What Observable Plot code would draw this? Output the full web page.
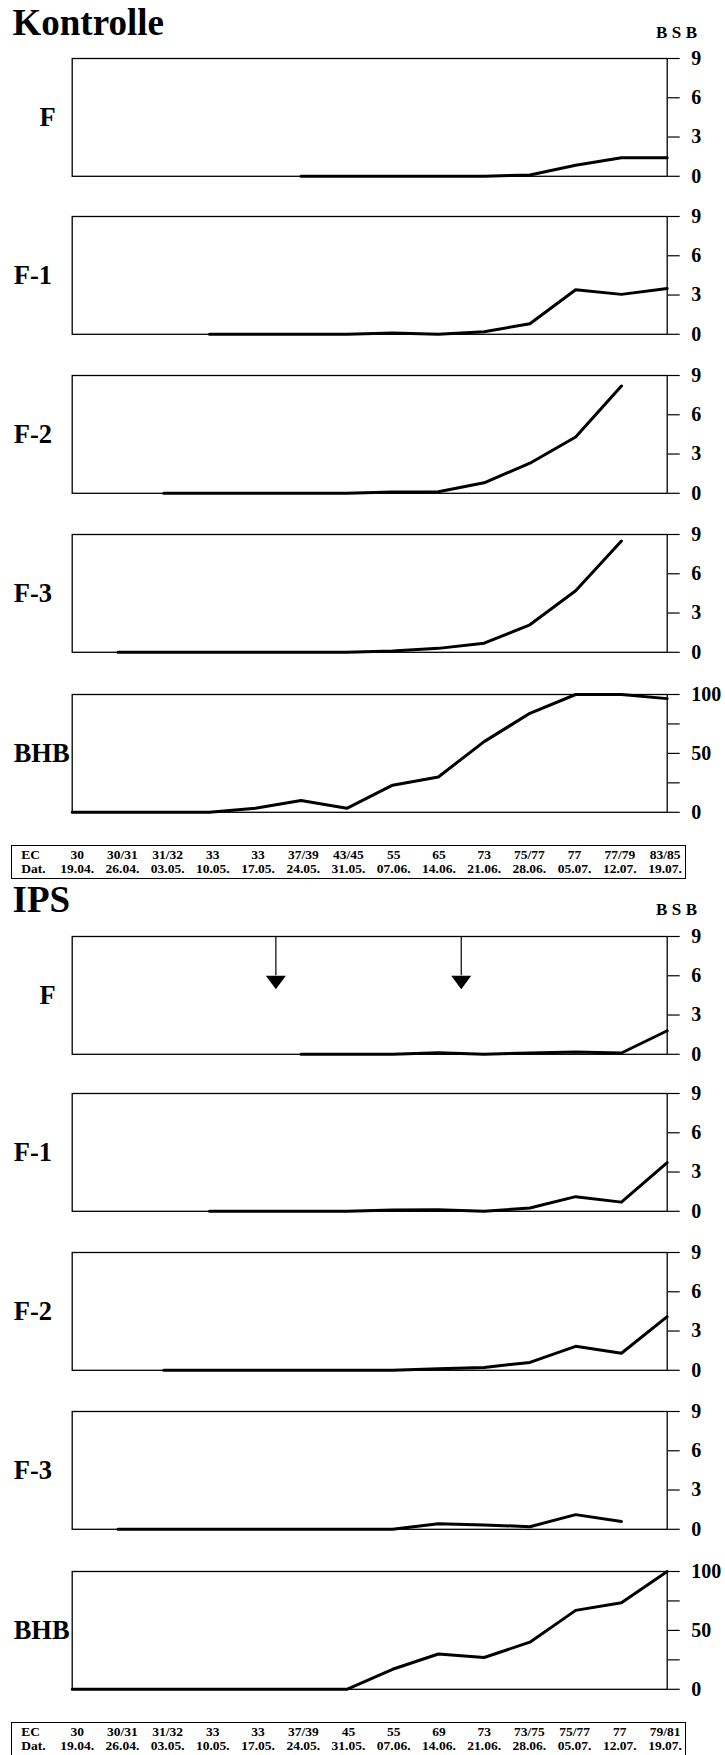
<!DOCTYPE html>
<html>
<head>
<meta charset="utf-8">
<script src="https://cdn.jsdelivr.net/npm/d3@7"></script>
<script src="https://cdn.jsdelivr.net/npm/@observablehq/plot@0.6"></script>
<style>
  html, body { margin: 0; padding: 0; background: #fff; overflow: hidden; }
  #page { position: relative; width: 725px; height: 1755px; overflow: hidden;
          font-family: "Liberation Serif", "Times New Roman", serif; font-weight: bold; color: #000; }
  .abs { position: absolute; }
  .title { font-size: 37px; line-height: 1; white-space: nowrap; }
  .unit { font-size: 17px; letter-spacing: 4.5px; line-height: 1; white-space: nowrap; }
  .tbox { border: 1.6px solid #000; box-sizing: border-box; }
</style>
</head>
<body>
<div id="page"></div>
<script>
// ---------- data ----------
const dates = ["19.04.","26.04.","03.05.","10.05.","17.05.","24.05.","31.05.","07.06.","14.06.","21.06.","28.06.","05.07.","12.07.","19.07."];
const ecKontrolle = ["30","30/31","31/32","33","33","37/39","43/45","55","65","73","75/77","77","77/79","83/85"];
const ecIPS       = ["30","30/31","31/32","33","33","37/39","45","55","69","73","73/75","75/77","77","79/81"];
const panelLabels = ["F","F-1","F-2","F-3","BHB"];
const groupTitles = ["Kontrolle","IPS"];
const unitLabel = "BSB";

// Kontrolle (BSB values, BHB in %)
const kontrolleF   = [null,null,null,null,null,0,0,0,0,0,0.1,0.85,1.42,1.42];
const kontrolleF1  = [null,null,null,0,0,0,0,0.1,0,0.2,0.8,3.4,3.05,3.5];
const kontrolleF2  = [null,null,0,0,0,0,0,0.1,0.12,0.8,2.3,4.3,8.2,null];
const kontrolleF3  = [null,0,0,0,0,0,0,0.1,0.3,0.7,2.1,4.7,8.5,null];
const kontrolleBHB = [0,0,0,0,3.4,10,3.4,23,30,60,84,100,100,96.5];

// IPS
const ipsF   = [null,null,null,null,null,0,0,0,0.12,0,0.1,0.18,0.1,1.8];
const ipsF1  = [null,null,null,0,0,0,0,0.1,0.12,0,0.25,1.12,0.7,3.72];
const ipsF2  = [null,null,0,0,0,0,0,0,0.12,0.22,0.6,1.83,1.3,4.1];
const ipsF3  = [null,0,0,0,0,0,0,0,0.43,0.33,0.2,1.12,0.6,null];
const ipsBHB = [0,0,0,0,0,0,0,17,30,27,40,67,73.5,100];

// treatment arrows (position between sampling dates, as date index)
const ipsArrows = [4.45, 8.5];

const bsbTicks = [0,3,6,9];
const bhbTicks = [0,25,50,75,100];
const bhbTickLabels = [0,50,100];

// ---------- layout ----------
const W = 725, ML = 71.7, MR = 58.3, FRAME_H = 117.8, PAD = 10;
const TML = 76.7, TMR = 60.5;
const panelOffsets = [0, 157.6, 316.2, 475.3, 635.5];
const groupTops = [58.3, 935.7];
const tableOffset = 786.5;
const FONT = "'Liberation Serif', 'Times New Roman', serif";

const page = document.getElementById("page");

const triangleDown = {
  draw(context) {
    context.moveTo(-10, 0);
    context.lineTo(10, 0);
    context.lineTo(0, 13.5);
    context.closePath();
  }
};

function place(node, top, left = 0) {
  const wrap = document.createElement("div");
  wrap.className = "abs";
  wrap.style.top = top + "px";
  wrap.style.left = left + "px";
  wrap.appendChild(node);
  page.appendChild(wrap);
  return wrap;
}

function panel(values, label, isBHB, arrows) {
  const data = values.map((v, i) => ({i, v}));
  const marks = [
    Plot.frame({stroke: "#000", strokeWidth: 1.3}),
    Plot.axisY({
      anchor: "right",
      ticks: isBHB ? bhbTicks : bsbTicks,
      tickSize: 12,
      tickPadding: 12,
      tickFormat: isBHB ? (d => bhbTickLabels.includes(d) ? String(d) : "") : (d => String(d)),
      fontSize: 20,
      fontWeight: "bold",
      stroke: "#000",
      strokeWidth: 1.2,
      label: null
    }),
    Plot.line(data, {x: "i", y: "v", stroke: "#000", strokeWidth: 3, strokeLinejoin: "round"}),
    Plot.text([label], {
      text: d => d, frameAnchor: "left", textAnchor: "start",
      dx: label === "F" ? -32.7 : -58.5, dy: 0,
      fontSize: 26.5, fontWeight: "bold"
    })
  ];
  if (arrows) {
    marks.push(Plot.ruleX(arrows, {x: d => d, y1: () => 9, y2: () => 6, stroke: "#000", strokeWidth: 1.2}));
    marks.push(Plot.dot(arrows, {x: d => d, y: () => 6, symbol: triangleDown, r: 5, fill: "#000", stroke: "none"}));
  }
  return Plot.plot({
    width: W, height: FRAME_H + 2 * PAD,
    marginLeft: ML, marginRight: MR, marginTop: PAD, marginBottom: PAD,
    x: {domain: [0, 13], axis: null},
    y: {domain: isBHB ? [0, 100] : [0, 9]},
    style: {fontFamily: FONT, fontWeight: "bold", background: "transparent", overflow: "visible"},
    marks
  });
}

function table(ec) {
  const rows = ["EC", "Dat."];
  return Plot.plot({
    width: W, height: 34,
    marginLeft: TML, marginRight: TMR, marginTop: 0, marginBottom: 0,
    x: {domain: [0, 13], axis: null},
    y: {type: "point", domain: rows, range: [12.5, 27], padding: 0, axis: null},
    style: {fontFamily: FONT, fontWeight: "bold", background: "transparent", overflow: "visible"},
    marks: [
      Plot.text(ec, {x: (d, i) => i, y: () => rows[0], text: d => d, lineAnchor: "bottom", fontSize: 13.5, fontWeight: "bold"}),
      Plot.text(dates, {x: (d, i) => i, y: () => rows[1], text: d => d, lineAnchor: "bottom", fontSize: 13.5, fontWeight: "bold"}),
      Plot.text(rows, {y: d => d, text: d => d, frameAnchor: "left", textAnchor: "start", dx: -56, lineAnchor: "bottom", fontSize: 13.5, fontWeight: "bold"})
    ]
  });
}

const groups = [
  {title: groupTitles[0], series: [kontrolleF, kontrolleF1, kontrolleF2, kontrolleF3, kontrolleBHB], ec: ecKontrolle, arrows: null},
  {title: groupTitles[1], series: [ipsF, ipsF1, ipsF2, ipsF3, ipsBHB], ec: ecIPS, arrows: ipsArrows}
];

groups.forEach((g, gi) => {
  const top = groupTops[gi];
  const t = document.createElement("div");
  t.className = "abs title";
  t.textContent = g.title;
  t.style.left = "12.5px";
  t.style.top = (top - 23.3 - 0.8375 * 37) + "px";
  page.appendChild(t);
  const u = document.createElement("div");
  u.className = "abs unit";
  u.textContent = unitLabel;
  u.style.left = "656px";
  u.style.top = (top - 20.3 - 0.8375 * 17) + "px";
  page.appendChild(u);
  g.series.forEach((vals, pi) => {
    const svg = panel(vals, panelLabels[pi], pi === 4, pi === 0 ? g.arrows : null);
    place(svg, top + panelOffsets[pi] - PAD);
  });
  const box = document.createElement("div");
  box.className = "abs tbox";
  box.style.left = "10.5px";
  box.style.top = (top + tableOffset) + "px";
  box.style.width = "675px";
  box.style.height = "34.5px";
  page.appendChild(box);
  place(table(g.ec), top + tableOffset);
});
</script>
</body>
</html>
